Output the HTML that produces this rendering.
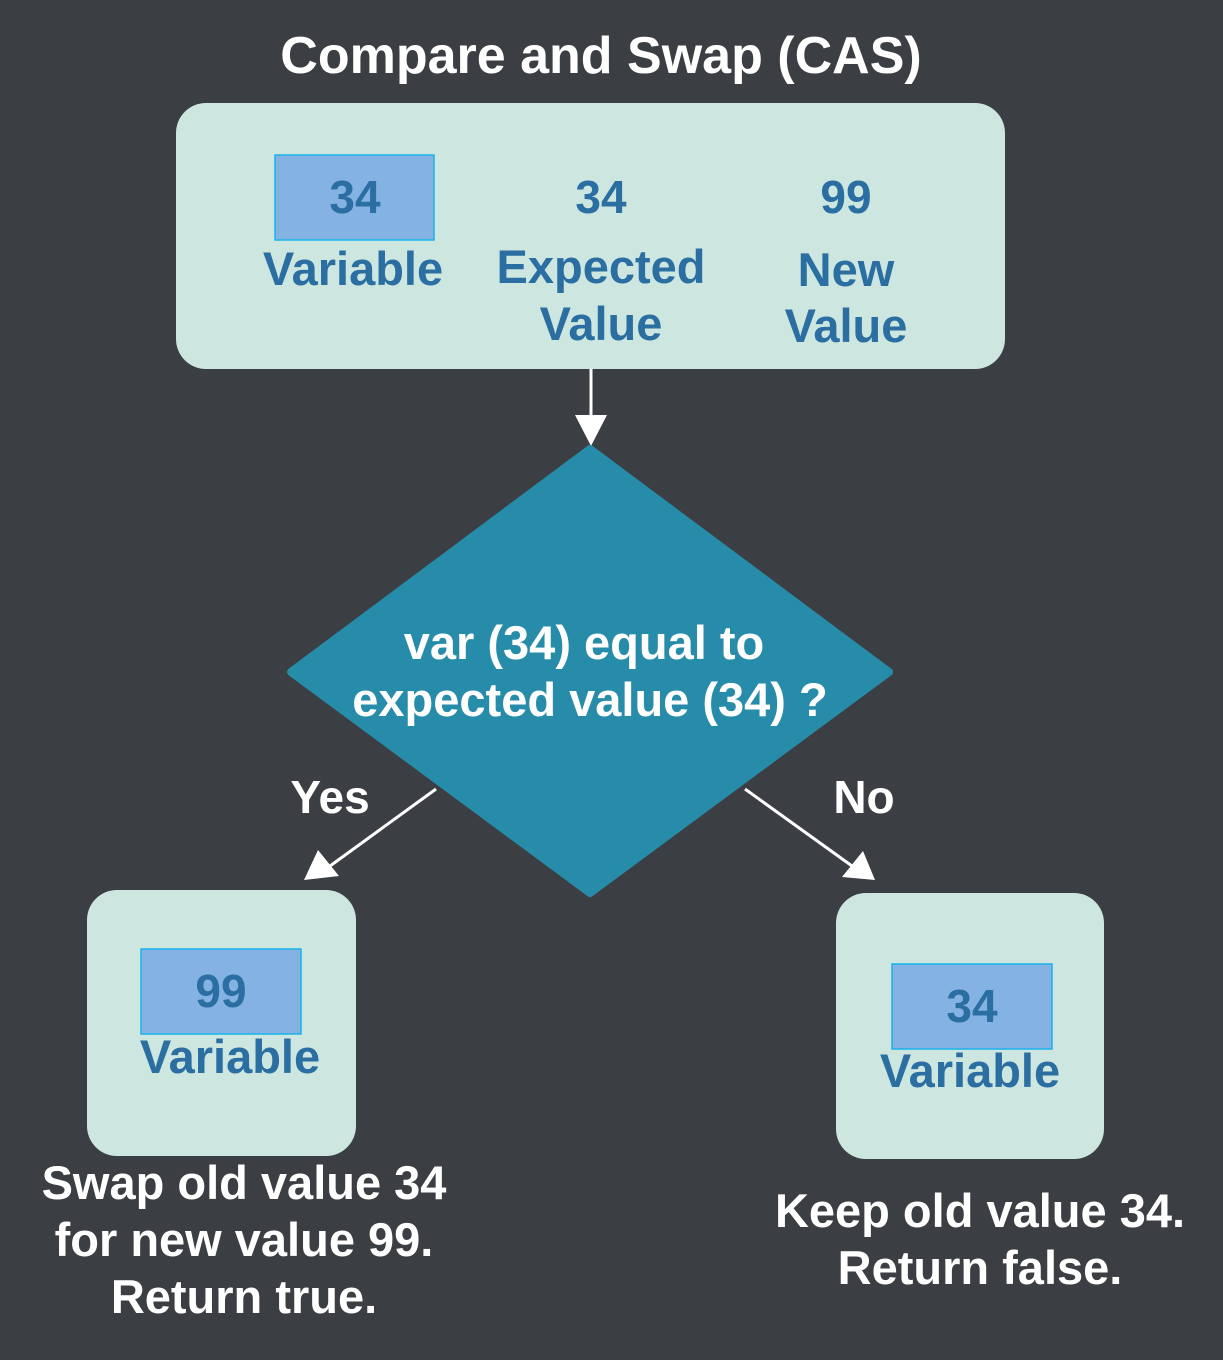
<!DOCTYPE html>
<html><head><style>body{margin:0;background:#3b3e42}</style></head><body>
<svg width="1223" height="1355" xmlns="http://www.w3.org/2000/svg" font-family="Liberation Sans, Arial, sans-serif" font-weight="bold">
<rect width="1223" height="1355" fill="#3b3e42"/>
<text x="601" y="73" font-size="52" fill="#fff" text-anchor="middle">Compare and Swap (CAS)</text>
<rect x="176" y="103" width="829" height="266" rx="30" fill="#cde7e0"/>
<rect x="275" y="155" width="159" height="85" fill="#84b3e3" stroke="#1ab3ea" stroke-width="1.5"/>
<g fill="#2a6ea2" text-anchor="middle">
<text x="355" y="213" font-size="46">34</text>
<text x="353" y="285" font-size="47">Variable</text>
<text x="601" y="213" font-size="46">34</text>
<text x="601" y="283" font-size="47">Expected</text>
<text x="601" y="340" font-size="47">Value</text>
<text x="846" y="213" font-size="46">99</text>
<text x="846" y="286" font-size="47">New</text>
<text x="846" y="342" font-size="47">Value</text>
</g>
<line x1="591" y1="369" x2="591" y2="420" stroke="#fff" stroke-width="3"/>
<polygon points="575,415 607,415 591,446" fill="#fff"/>
<polygon points="590,449 889,672 590,893 291,672" fill="#268ca9" stroke="#268ca9" stroke-width="8" stroke-linejoin="round"/>
<text x="584" y="659" font-size="47" fill="#fff" text-anchor="middle">var (34) equal to</text>
<text x="590" y="716" font-size="47" fill="#fff" text-anchor="middle">expected value (34) ?</text>
<text x="330" y="813" font-size="46" fill="#fff" text-anchor="middle">Yes</text>
<text x="864" y="813" font-size="46" fill="#fff" text-anchor="middle">No</text>
<line x1="436" y1="789" x2="330" y2="866" stroke="#fff" stroke-width="3"/>
<polygon points="304,880 318,850 339,876" fill="#fff"/>
<line x1="745" y1="789" x2="852" y2="866" stroke="#fff" stroke-width="3"/>
<polygon points="875,880 842,877 863,851" fill="#fff"/>
<rect x="87" y="890" width="269" height="266" rx="30" fill="#cde7e0"/>
<rect x="141" y="949" width="160" height="85" fill="#84b3e3" stroke="#1ab3ea" stroke-width="1.5"/>
<text x="221" y="1007" font-size="46" fill="#2a6ea2" text-anchor="middle">99</text>
<text x="230" y="1073" font-size="47" fill="#2a6ea2" text-anchor="middle">Variable</text>
<rect x="836" y="893" width="268" height="266" rx="30" fill="#cde7e0"/>
<rect x="892" y="964" width="160" height="85" fill="#84b3e3" stroke="#1ab3ea" stroke-width="1.5"/>
<text x="972" y="1022" font-size="46" fill="#2a6ea2" text-anchor="middle">34</text>
<text x="970" y="1087" font-size="47" fill="#2a6ea2" text-anchor="middle">Variable</text>
<g fill="#fff" text-anchor="middle" font-size="47">
<text x="244" y="1199">Swap old value 34</text>
<text x="244" y="1256">for new value 99.</text>
<text x="244" y="1313">Return true.</text>
<text x="980" y="1227">Keep old value 34.</text>
<text x="980" y="1284">Return false.</text>
</g>
</svg>
</body></html>
